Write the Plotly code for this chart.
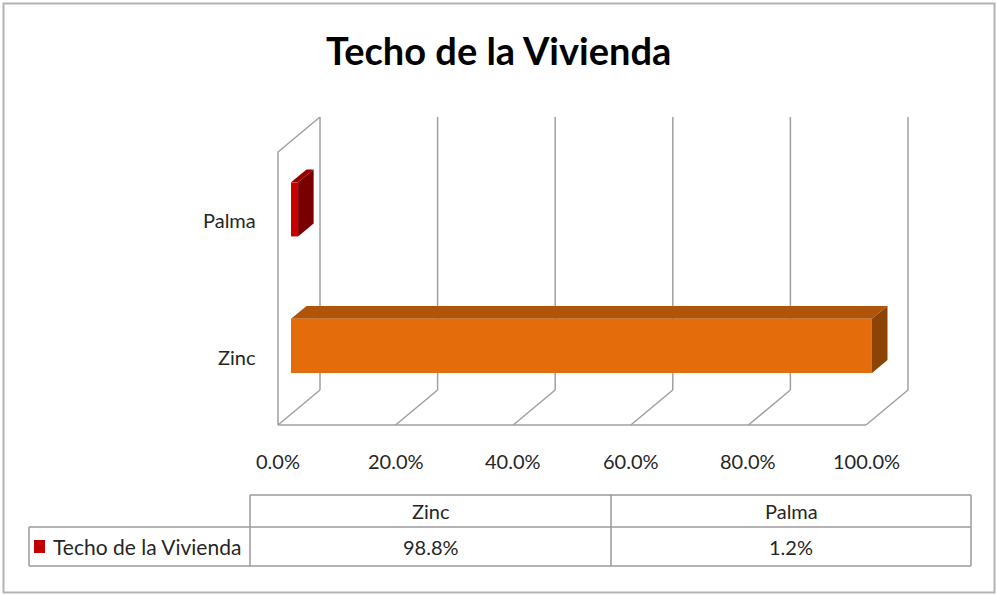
import plotly.graph_objects as go

# ---------------- data ----------------
categories = ["Zinc", "Palma"]
values = [98.8, 1.2]                     # percent
series_name = "Techo de la Vivienda"
x_ticks = [0, 20, 40, 60, 80, 100]
x_tick_labels = ["0.0%", "20.0%", "40.0%", "60.0%", "80.0%", "100.0%"]

# ---------------- styles ----------------
front_cols = ["#E46C0A", "#C80000"]
top_cols = ["#B0540A", "#9A0000"]
side_cols = ["#8C4406", "#780000"]
grid_col = "#A0A0A0"
text_col = "#262626"
FONT = "Lato"

W, H = 997, 595
# axis geometry (pixel mapping of the pseudo-3D plot)
PX0, PX100 = 278.0, 866.0          # x=0% and x=100% on the front plane
PY_LOW, PY_HIGH = 425.0, 152.0     # y=-0.5 and y=1.5 on the front plane
sx = (PX100 - PX0) / 100.0
sy = (PY_LOW - PY_HIGH) / 2.0
y0_px = PY_LOW - 0.5 * sy
xr = [-PX0 / sx, (W - PX0) / sx]
yr = [(y0_px - H) / sy, y0_px / sy]

DX = 42.0 / sx      # depth offset in x units
DY = 35.0 / sy      # depth offset in y units
Z0, Z1 = 0.31, 0.68 # bar depth span (fraction of full depth)
HH = 0.198          # bar half height (category units)
YLO, YHI = -0.5, 1.5

fig = go.Figure()

# ---- walls / gridlines ----
gx, gy = [], []
for t in x_ticks:
    gx += [t + DX, t + DX, None]
    gy += [YLO + DY, YHI + DY, None]
    gx += [t, t + DX, None]
    gy += [YLO, YLO + DY, None]
gx += [x_ticks[0], x_ticks[-1], None]
gy += [YLO, YLO, None]
gx += [x_ticks[0], x_ticks[0], x_ticks[0] + DX, None]
gy += [YLO, YHI, YHI + DY, None]
fig.add_trace(go.Scatter(x=gx, y=gy, mode="lines",
                         line=dict(color=grid_col, width=1.5),
                         hoverinfo="skip", showlegend=False))

# ---- 3D bars ----
for i, (cat, v) in enumerate(zip(categories, values)):
    bot, top = i - HH, i + HH
    fx = [Z0 * DX, v + Z0 * DX, v + Z0 * DX, Z0 * DX, Z0 * DX]
    fy = [bot + Z0 * DY, bot + Z0 * DY, top + Z0 * DY, top + Z0 * DY, bot + Z0 * DY]
    tx = [Z0 * DX, v + Z0 * DX, v + Z1 * DX, Z1 * DX, Z0 * DX]
    ty = [top + Z0 * DY, top + Z0 * DY, top + Z1 * DY, top + Z1 * DY, top + Z0 * DY]
    sxs = [v + Z0 * DX, v + Z1 * DX, v + Z1 * DX, v + Z0 * DX, v + Z0 * DX]
    sys_ = [bot + Z0 * DY, bot + Z1 * DY, top + Z1 * DY, top + Z0 * DY, bot + Z0 * DY]
    for px_, py_, col in [(tx, ty, top_cols[i]), (sxs, sys_, side_cols[i]),
                          (fx, fy, front_cols[i])]:
        fig.add_trace(go.Scatter(x=px_, y=py_, mode="lines", fill="toself",
                                 fillcolor=col, line=dict(width=0, color=col),
                                 hoverinfo="skip", showlegend=False))
    fig.add_annotation(x=-3.4, y=i, text=cat, showarrow=False, xanchor="right",
                       yanchor="middle", font=dict(family=FONT, size=20, color=text_col))

# ---- x tick labels ----
for t, lab in zip(x_ticks, x_tick_labels):
    fig.add_annotation(x=t, y=(y0_px - 461) / sy, text=lab, showarrow=False,
                       xanchor="center", yanchor="middle",
                       font=dict(family=FONT, size=20, color=text_col))

# ---- data table (paper coordinates from pixels) ----
def px(x):
    return x / W

def py(y):
    return 1 - y / H

shapes = []
tcol = "#9A9A9A"
T_L, T_C1, T_C2, T_R = 29, 250, 611, 971
T_TOP, T_MID, T_BOT = 495, 527, 566
lines = [
    (T_C1, T_TOP, T_R, T_TOP), (T_L, T_MID, T_R, T_MID), (T_L, T_BOT, T_R, T_BOT),
    (T_L, T_MID, T_L, T_BOT), (T_C1, T_TOP, T_C1, T_BOT),
    (T_C2, T_TOP, T_C2, T_BOT), (T_R, T_TOP, T_R, T_BOT),
]
for x0, y0, x1, y1 in lines:
    shapes.append(dict(type="line", xref="paper", yref="paper",
                       x0=px(x0), y0=py(y0), x1=px(x1), y1=py(y1),
                       line=dict(color=tcol, width=1.5)))
shapes.append(dict(type="rect", xref="paper", yref="paper",
                   x0=px(34), x1=px(45), y0=py(553), y1=py(540),
                   fillcolor="#C00000", line=dict(width=0)))
shapes.append(dict(type="rect", xref="paper", yref="paper",
                   x0=px(3.5), x1=px(994.5), y0=py(592.5), y1=py(3.5),
                   line=dict(color="#B3B3B3", width=2)))

col_centers = [(T_C1 + T_C2) / 2, (T_C2 + T_R) / 2]
for cx, cat, v in zip(col_centers, categories, values):
    fig.add_annotation(xref="paper", yref="paper", x=px(cx), y=py((T_TOP + T_MID) / 2),
                       text=cat, showarrow=False, xanchor="center", yanchor="middle",
                       font=dict(family=FONT, size=20, color=text_col))
    fig.add_annotation(xref="paper", yref="paper", x=px(cx), y=py((T_MID + T_BOT) / 2),
                       text=f"{v:.1f}%", showarrow=False, xanchor="center", yanchor="middle",
                       font=dict(family=FONT, size=20, color=text_col))
fig.add_annotation(xref="paper", yref="paper", x=px(51), y=py((T_MID + T_BOT) / 2),
                   text=series_name, showarrow=False, xanchor="left", yanchor="middle",
                   font=dict(family=FONT, size=21, color=text_col))

fig.add_annotation(xref="paper", yref="paper", x=px(499), y=py(50),
                   text="<b>Techo de la Vivienda</b>", showarrow=False,
                   xanchor="center", yanchor="middle",
                   font=dict(family=FONT, size=38, color="#000000"))

fig.update_layout(
    width=W, height=H,
    margin=dict(l=0, r=0, t=0, b=0),
    paper_bgcolor="white", plot_bgcolor="white",
    shapes=shapes,
    xaxis=dict(range=xr, visible=False, fixedrange=True),
    yaxis=dict(range=yr, visible=False, fixedrange=True),
    showlegend=False,
)

fig.write_html("out.html", config={"displayModeBar": False},
               post_script="document.body.style.margin='0';document.body.style.padding='0';")
